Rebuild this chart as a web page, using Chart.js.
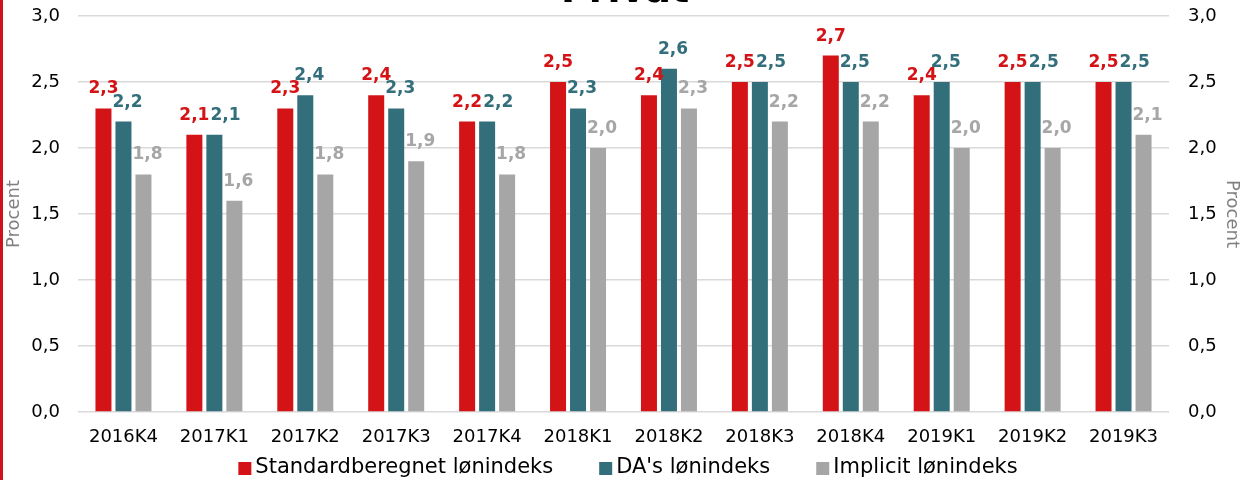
<!DOCTYPE html>
<html>
<head>
<meta charset="utf-8">
<script src="https://cdn.jsdelivr.net/npm/chart.js@4/dist/chart.umd.min.js"></script>
<style>
  html, body { margin: 0; padding: 0; background: #fff; }
  #wrap { width: 1242px; height: 480px; }
</style>
</head>
<body>
<div id="wrap"><canvas id="lonChart" width="1242" height="480"></canvas></div>
<script>
// data
var kvartaler = ['2016K4', '2017K1', '2017K2', '2017K3', '2017K4', '2018K1',
                 '2018K2', '2018K3', '2018K4', '2019K1', '2019K2', '2019K3'];
var standardberegnet = [2.3, 2.1, 2.3, 2.4, 2.2, 2.5, 2.4, 2.5, 2.7, 2.4, 2.5, 2.5];
var daLonindeks      = [2.2, 2.1, 2.4, 2.3, 2.2, 2.3, 2.6, 2.5, 2.5, 2.5, 2.5, 2.5];
var implicitIndeks   = [1.8, 1.6, 1.8, 1.9, 1.8, 2.0, 2.3, 2.2, 2.2, 2.0, 2.0, 2.1];
var yMin = 0, yMax = 3, yStep = 0.5;

var RED = '#d41317', TEAL = '#336e7b', GREY = '#a6a6a6';
var FONT = '"DejaVu Sans", Verdana, sans-serif';

function fmt(v) { return v.toFixed(1).replace('.', ','); }

// baggrund, rød kant og titel (skåret af foroven)
var ramme = {
  id: 'ramme',
  beforeDraw: function (chart) {
    var ctx = chart.ctx;
    ctx.save();
    ctx.fillStyle = '#fff';
    ctx.fillRect(0, 0, chart.width, chart.height);
    ctx.fillStyle = '#d0121b';
    ctx.fillRect(0, 0, 3, chart.height);
    ctx.fillStyle = '#000';
    ctx.font = 'bold 38px ' + FONT;
    ctx.textAlign = 'center';
    ctx.textBaseline = 'alphabetic';
    ctx.fillText('Privat', 625, 2);
    ctx.restore();
  }
};

// værdietiketter over søjlerne
var etiketter = {
  id: 'etiketter',
  afterDatasetsDraw: function (chart) {
    var ctx = chart.ctx;
    ctx.save();
    ctx.font = 'bold 17px ' + FONT;
    ctx.textBaseline = 'alphabetic';
    ctx.textAlign = 'left';
    for (var i = 0; i < chart.data.labels.length; i++) {
      var prev = null;
      chart.data.datasets.forEach(function (ds, d) {
        var bar = chart.getDatasetMeta(d).data[i];
        var txt = fmt(ds.data[i]);
        var w = ctx.measureText(txt).width;
        var base = bar.y - 15;
        var x = bar.x - w / 2 + (d > 0 ? 4 : 0);
        if (prev && Math.abs(base - prev.base) < 13 && x < prev.right + 1) {
          x = prev.right + 1;
        }
        ctx.fillStyle = ds.backgroundColor;
        ctx.fillText(txt, x, base);
        prev = { right: x + w, base: base };
      });
    }
    ctx.restore();
  }
};

// forklaring nederst
var forklaring = {
  id: 'forklaring',
  afterDraw: function (chart) {
    var ctx = chart.ctx;
    ctx.save();
    ctx.font = '21px ' + FONT;
    ctx.textBaseline = 'middle';
    var box = 13, gapText = 4, gapItem = 46;
    var widths = chart.data.datasets.map(function (ds) { return ctx.measureText(ds.label).width; });
    var total = widths.reduce(function (a, w) { return a + box + gapText + w; }, 0) + gapItem * (widths.length - 1);
    var x = 628 - total / 2;
    var y = 468;
    chart.data.datasets.forEach(function (ds, d) {
      ctx.fillStyle = ds.backgroundColor;
      ctx.fillRect(x, y - 6, box, box);
      ctx.fillStyle = '#000';
      ctx.fillText(ds.label, x + box + gapText, y);
      x += box + gapText + widths[d] + gapItem;
    });
    ctx.restore();
  }
};

var tickFont = { family: FONT, size: 18 };

var ctx = document.getElementById('lonChart').getContext('2d');
var lonChart = new Chart(ctx, {
  type: 'bar',
  data: {
    labels: kvartaler,
    datasets: [{
      label: 'Standardberegnet lønindeks',
      data: standardberegnet,
      backgroundColor: RED
    }, {
      label: "DA's lønindeks",
      data: daLonindeks,
      backgroundColor: TEAL
    }, {
      label: 'Implicit lønindeks',
      data: implicitIndeks,
      backgroundColor: GREY
    }]
  },
  options: {
    responsive: false,
    animation: false,
    devicePixelRatio: 1,
    categoryPercentage: 0.66,
    barPercentage: 0.8,
    layout: { padding: { top: 16, bottom: 30, left: 0, right: 0 } },
    plugins: {
      legend: { display: false },
      tooltip: { enabled: false }
    },
    scales: {
      x: {
        grid: { display: false, drawTicks: false },
        border: { display: false },
        ticks: { color: '#000', padding: 15, font: tickFont },
        afterFit: function (s) { s.height = 38; }
      },
      y: {
        position: 'left',
        min: yMin, max: yMax,
        ticks: { stepSize: yStep, color: '#000', padding: 1, font: tickFont,
                 callback: function (v) { return fmt(v); } },
        grid: { color: '#d9d9d9', lineWidth: 1.5, drawTicks: true, tickLength: 17,
                tickColor: 'rgba(0,0,0,0)' },
        border: { display: false },
        title: { display: true, text: 'Procent', color: '#7f7f7f',
                 font: { family: FONT, size: 18 }, padding: { top: 4, bottom: 0 } },
        afterFit: function (s) { s.width = 78; }
      },
      y2: {
        position: 'right',
        min: yMin, max: yMax,
        ticks: { stepSize: yStep, color: '#000', padding: 1, font: tickFont,
                 callback: function (v) { return fmt(v); } },
        grid: { display: false, drawTicks: true, tickLength: 18 },
        border: { display: false },
        title: { display: true, text: 'Procent', color: '#7f7f7f',
                 font: { family: FONT, size: 18 }, padding: { top: 0, bottom: 0 } },
        afterFit: function (s) { s.width = 73; }
      }
    }
  },
  plugins: [ramme, etiketter, forklaring]
});
</script>
</body>
</html>
